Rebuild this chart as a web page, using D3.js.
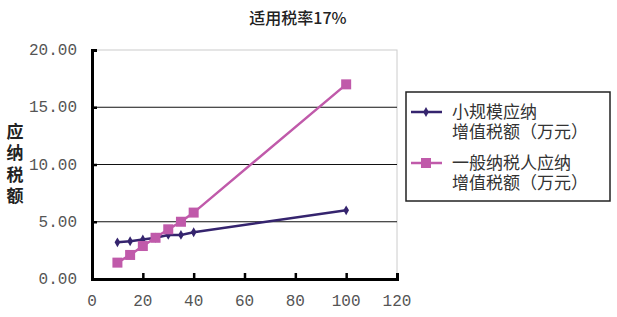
<!DOCTYPE html>
<html>
<head>
<meta charset="utf-8">
<script src="https://cdn.jsdelivr.net/npm/d3@7"></script>
<style>
  body { margin: 0; background: #fff; }
  svg { display: block; }
</style>
</head>
<body>
<div id="chart"></div>
<script>
// Données
const xValues = [10, 15, 20, 25, 30, 35, 40, 100];
const smallTax = [3.2, 3.3, 3.45, 3.6, 3.85, 3.85, 4.08, 6.0];
const generalTax = [1.43, 2.1, 2.88, 3.6, 4.34, 5.0, 5.8, 17.0];
const xTicks = [0, 20, 40, 60, 80, 100, 120];
const yTicks = [0, 5, 10, 15, 20];
const seriesNames = ["小规模应纳\n增值税额（万元）", "一般纳税人应纳\n增值税额（万元）"];
const chartTitle = "适用税率17%";
const yTitle = "应纳税额";

const W = 617, H = 317;
const plot = { left: 92, right: 397, top: 50, bottom: 279 };

const svg = d3.select("#chart").append("svg")
    .attr("width", W)
    .attr("height", H);

const x = d3.scaleLinear().domain([0, 120]).range([plot.left, plot.right]);
const y = d3.scaleLinear().domain([0, 20]).range([plot.bottom, plot.top]);

// Titre
svg.append("text")
    .attr("x", 298).attr("y", 24)
    .attr("text-anchor", "middle")
    .style("font-family", "'Noto Sans CJK SC', sans-serif")
    .style("font-size", "16px")
    .style("font-weight", "500")
    .attr("fill", "#222")
    .text(chartTitle);

// Cadre léger
svg.append("rect")
    .attr("x", plot.left).attr("y", plot.top)
    .attr("width", plot.right - plot.left)
    .attr("height", plot.bottom - plot.top)
    .attr("fill", "none")
    .attr("stroke", "#ccc")
    .attr("stroke-width", 1);

// Lignes de grille
svg.append("g")
    .selectAll("line")
    .data(yTicks.filter(d => d > 0 && d < 20))
    .enter().append("line")
    .attr("x1", plot.left).attr("x2", plot.right)
    .attr("y1", d => y(d)).attr("y2", d => y(d))
    .attr("stroke", "#111")
    .attr("stroke-width", 1.2);

// Axe Y
const yAxis = svg.append("g")
    .attr("transform", `translate(${plot.left},0)`)
    .call(d3.axisRight(y).tickValues(yTicks).tickSize(5).tickFormat(""));
yAxis.select(".domain").attr("stroke", "#000").attr("stroke-width", 3);
yAxis.selectAll(".tick line").attr("stroke", "#000").attr("stroke-width", 2.5);

svg.append("g")
    .selectAll("text")
    .data(yTicks)
    .enter().append("text")
    .attr("x", 77)
    .attr("y", d => y(d) + 1)
    .attr("text-anchor", "end")
    .attr("dominant-baseline", "middle")
    .style("font-family", "'Liberation Mono', monospace")
    .style("font-size", "16px")
    .attr("fill", "#555")
    .text(d => d.toFixed(2));

// Axe X
const xAxis = svg.append("g")
    .attr("transform", `translate(0,${plot.bottom})`)
    .call(d3.axisTop(x).tickValues(xTicks).tickSize(6).tickFormat(""));
xAxis.select(".domain").attr("stroke", "#000").attr("stroke-width", 3);
xAxis.selectAll(".tick line").attr("stroke", "#000").attr("stroke-width", 2.5);

svg.append("g")
    .selectAll("text")
    .data(xTicks)
    .enter().append("text")
    .attr("x", d => x(d))
    .attr("y", 306)
    .attr("text-anchor", "middle")
    .style("font-family", "'Liberation Mono', monospace")
    .style("font-size", "16px")
    .attr("fill", "#555")
    .text(d => d);

// Titre de l'axe Y (écriture verticale)
svg.append("text")
    .attr("x", 15)
    .attr("y", 123)
    .style("writing-mode", "vertical-rl")
    .style("letter-spacing", "4.5px")
    .style("font-family", "'Noto Sans CJK SC', sans-serif")
    .style("font-size", "17px")
    .style("font-weight", "bold")
    .attr("fill", "#222")
    .text(yTitle);

const colors = ["#35246e", "#c05aaa"];
const line = d3.line().x(d => x(d[0])).y(d => y(d[1]));
const series = [smallTax, generalTax].map(vals => xValues.map((v, i) => [v, vals[i]]));

// Courbes
series.forEach((pts, k) => {
    svg.append("path")
        .datum(pts)
        .attr("d", line)
        .attr("fill", "none")
        .attr("stroke", colors[k])
        .attr("stroke-width", 2.5);
});

// Marqueurs
const diamond = d3.symbol().type(d3.symbolDiamond).size(28);
svg.append("g")
    .selectAll("path")
    .data(series[0])
    .enter().append("path")
    .attr("d", diamond)
    .attr("transform", d => `translate(${x(d[0])},${y(d[1])})`)
    .attr("fill", colors[0]);

svg.append("g")
    .selectAll("rect")
    .data(series[1])
    .enter().append("rect")
    .attr("x", d => x(d[0]) - 5)
    .attr("y", d => y(d[1]) - 5)
    .attr("width", 10).attr("height", 10)
    .attr("fill", colors[1]);

// Légende
const legend = svg.append("g");
legend.append("rect")
    .attr("x", 406).attr("y", 92)
    .attr("width", 204).attr("height", 109)
    .attr("fill", "#fff")
    .attr("stroke", "#222")
    .attr("stroke-width", 1.5);

const legendRows = [112, 163];
seriesNames.forEach((name, k) => {
    const ly = legendRows[k];
    legend.append("line")
        .attr("x1", 411).attr("x2", 442)
        .attr("y1", ly).attr("y2", ly)
        .attr("stroke", colors[k])
        .attr("stroke-width", 2.5);
    if (k === 0) {
        legend.append("path")
            .attr("d", diamond)
            .attr("transform", `translate(426,${ly})`)
            .attr("fill", colors[k]);
    } else {
        legend.append("rect")
            .attr("x", 421).attr("y", ly - 5)
            .attr("width", 10).attr("height", 10)
            .attr("fill", colors[k]);
    }
    const t = legend.append("text")
        .style("font-family", "'Noto Sans CJK SC', sans-serif")
        .style("font-size", "17px")
        .attr("fill", "#333");
    name.split("\n").forEach((s, i) => {
        t.append("tspan")
            .attr("x", 452)
            .attr("y", ly + 6 + i * 20)
            .text(s);
    });
});
</script>
</body>
</html>
